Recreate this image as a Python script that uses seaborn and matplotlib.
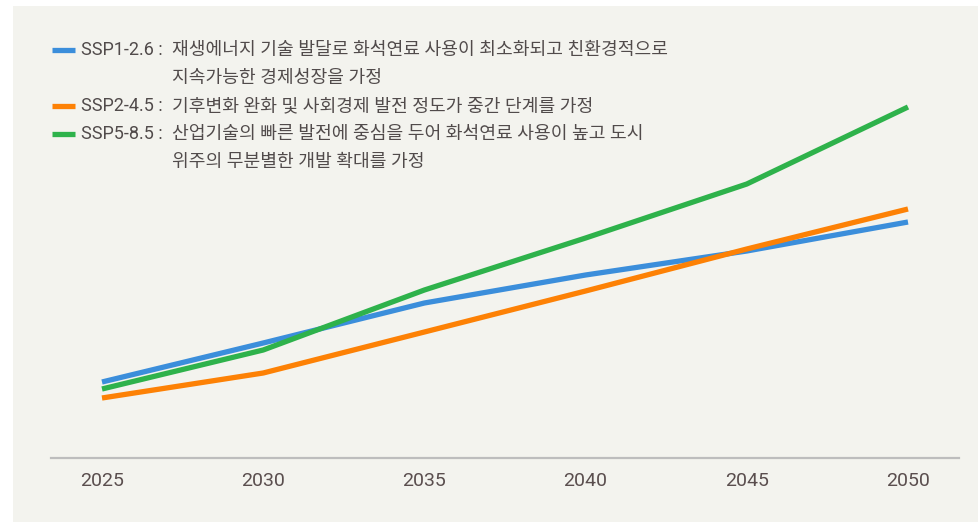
import pandas as pd
import matplotlib.pyplot as plt
from matplotlib.lines import Line2D
from matplotlib.patches import Rectangle
import seaborn as sns

# Data (arbitrary units)
years = [2025, 2030, 2035, 2040, 2045, 2050]
ssp126 = [76, 115, 155, 183, 207, 236]
ssp245 = [60, 85, 126, 167, 209, 249]
ssp585 = [69, 108, 168, 220, 274, 351]

scenarios = ['SSP1-2.6', 'SSP2-4.5', 'SSP5-8.5']
colors = ['#3b8edb', '#fd8105', '#2eb24b']
descriptions = [
    ['재생에너지 기술 발달로 화석연료 사용이 최소화되고 친환경적으로', '지속가능한 경제성장을 가정'],
    ['기후변화 완화 및 사회경제 발전 정도가 중간 단계를 가정'],
    ['산업기술의 빠른 발전에 중심을 두어 화석연료 사용이 높고 도시', '위주의 무분별한 개발 확대를 가정'],
]

df = pd.DataFrame({
    'year': years * 3,
    'value': ssp126 + ssp245 + ssp585,
    'scenario': [s for s in scenarios for _ in years],
})

sns.set_style('white')
plt.rcParams['font.family'] = ['Roboto', 'Noto Sans CJK KR', 'DejaVu Sans']

W, H = 979, 522
bg = '#f3f3ee'
text_color = '#514b4b'

fig = plt.figure(figsize=(W / 100, H / 100), dpi=100, facecolor='white')
fig.patches.append(Rectangle((13 / W, 0), 1 - 13 / W, 1 - 6 / H,
                             transform=fig.transFigure, facecolor=bg,
                             edgecolor='none', zorder=-10))

ax = fig.add_axes([51 / W, (H - 458) / H, (959 - 51) / W, (458 - 10) / H])
ax.patch.set_alpha(0)

sns.lineplot(data=df, x='year', y='value', hue='scenario',
             palette=dict(zip(scenarios, colors)), linewidth=3.8,
             legend=False, ax=ax)
for line in ax.lines:
    line.set_solid_capstyle('butt')

ax.set_xlim(2025 - 51 / 32.24, 2050 + 51 / 32.24)
ax.set_ylim(0, 448)
ax.set_xticks(years)
ax.set_xticklabels([str(y) for y in years])
ax.set_yticks([])
ax.set_xlabel('')
ax.set_ylabel('')
for side in ['top', 'right', 'left']:
    ax.spines[side].set_visible(False)
ax.spines['bottom'].set_color('#bdbdbd')
ax.spines['bottom'].set_linewidth(1.6)
ax.tick_params(axis='x', length=0, pad=10, labelsize=14, labelcolor='#5a4e4e')

# Legend drawn by hand (label + description block)
rows = [50, 106, 134]
for name, col, desc, y in zip(scenarios, colors, descriptions, rows):
    fy = 1 - y / H
    fig.add_artist(Line2D([52 / W, 75 / W], [fy, fy], color=col,
                          linewidth=3.8, solid_capstyle='butt'))
    fig.text(81 / W, fy, name + ' :', fontsize=13, color=text_color,
             va='center', ha='left')
    for i, part in enumerate(desc):
        fig.text(172 / W, 1 - (y + 28 * i) / H, part, fontsize=13.1,
                 color=text_color, va='center', ha='left')

fig.savefig('out.png', dpi=100, facecolor='white')
